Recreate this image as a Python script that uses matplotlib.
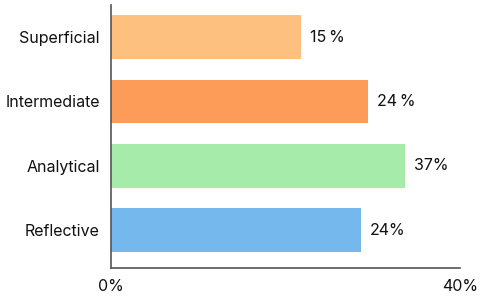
import numpy as np
import matplotlib
matplotlib.use("Agg")
import matplotlib.pyplot as plt

plt.rcParams["font.family"] = ["Inter", "DejaVu Sans"]

categories = ["Superficial", "Intermediate", "Analytical", "Reflective"]
bar_values = [21.8, 29.5, 33.7, 28.6]
value_labels = ["15\u2009%", "24\u2009%", "37%", "24%"]
colors = ["#FDC07F", "#FD9B58", "#A6EBAA", "#74B8EE"]
xtick_vals = [0, 40]
xtick_labels = ["0%", "40%"]

fig = plt.figure(figsize=(4.82, 2.97), dpi=100)
ax = fig.add_axes([111 / 482, 29 / 297, 349 / 482, 263 / 297])

y = np.arange(len(categories))
ax.barh(y, bar_values, height=0.68, color=colors)
for yi, v, lab in zip(y, bar_values, value_labels):
    ax.text(v + 1.0, yi, lab, va="center", ha="left", fontsize=11.5, color="#111111")

ax.set_xlim(0, 40)
ax.set_ylim(3.59, -0.5)
ax.set_yticks(y)
ax.set_yticklabels(categories, fontsize=11.5, color="#111111")
ax.set_xticks(xtick_vals)
ax.set_xticklabels(xtick_labels, fontsize=11.5, color="#111111")
ax.tick_params(length=0)
ax.tick_params(axis="y", pad=8)
ax.tick_params(axis="x", pad=8)
for s in ["top", "right"]:
    ax.spines[s].set_visible(False)
for s in ["left", "bottom"]:
    ax.spines[s].set_color("#555555")
    ax.spines[s].set_linewidth(1.2)

fig.savefig("out.png", dpi=100)
